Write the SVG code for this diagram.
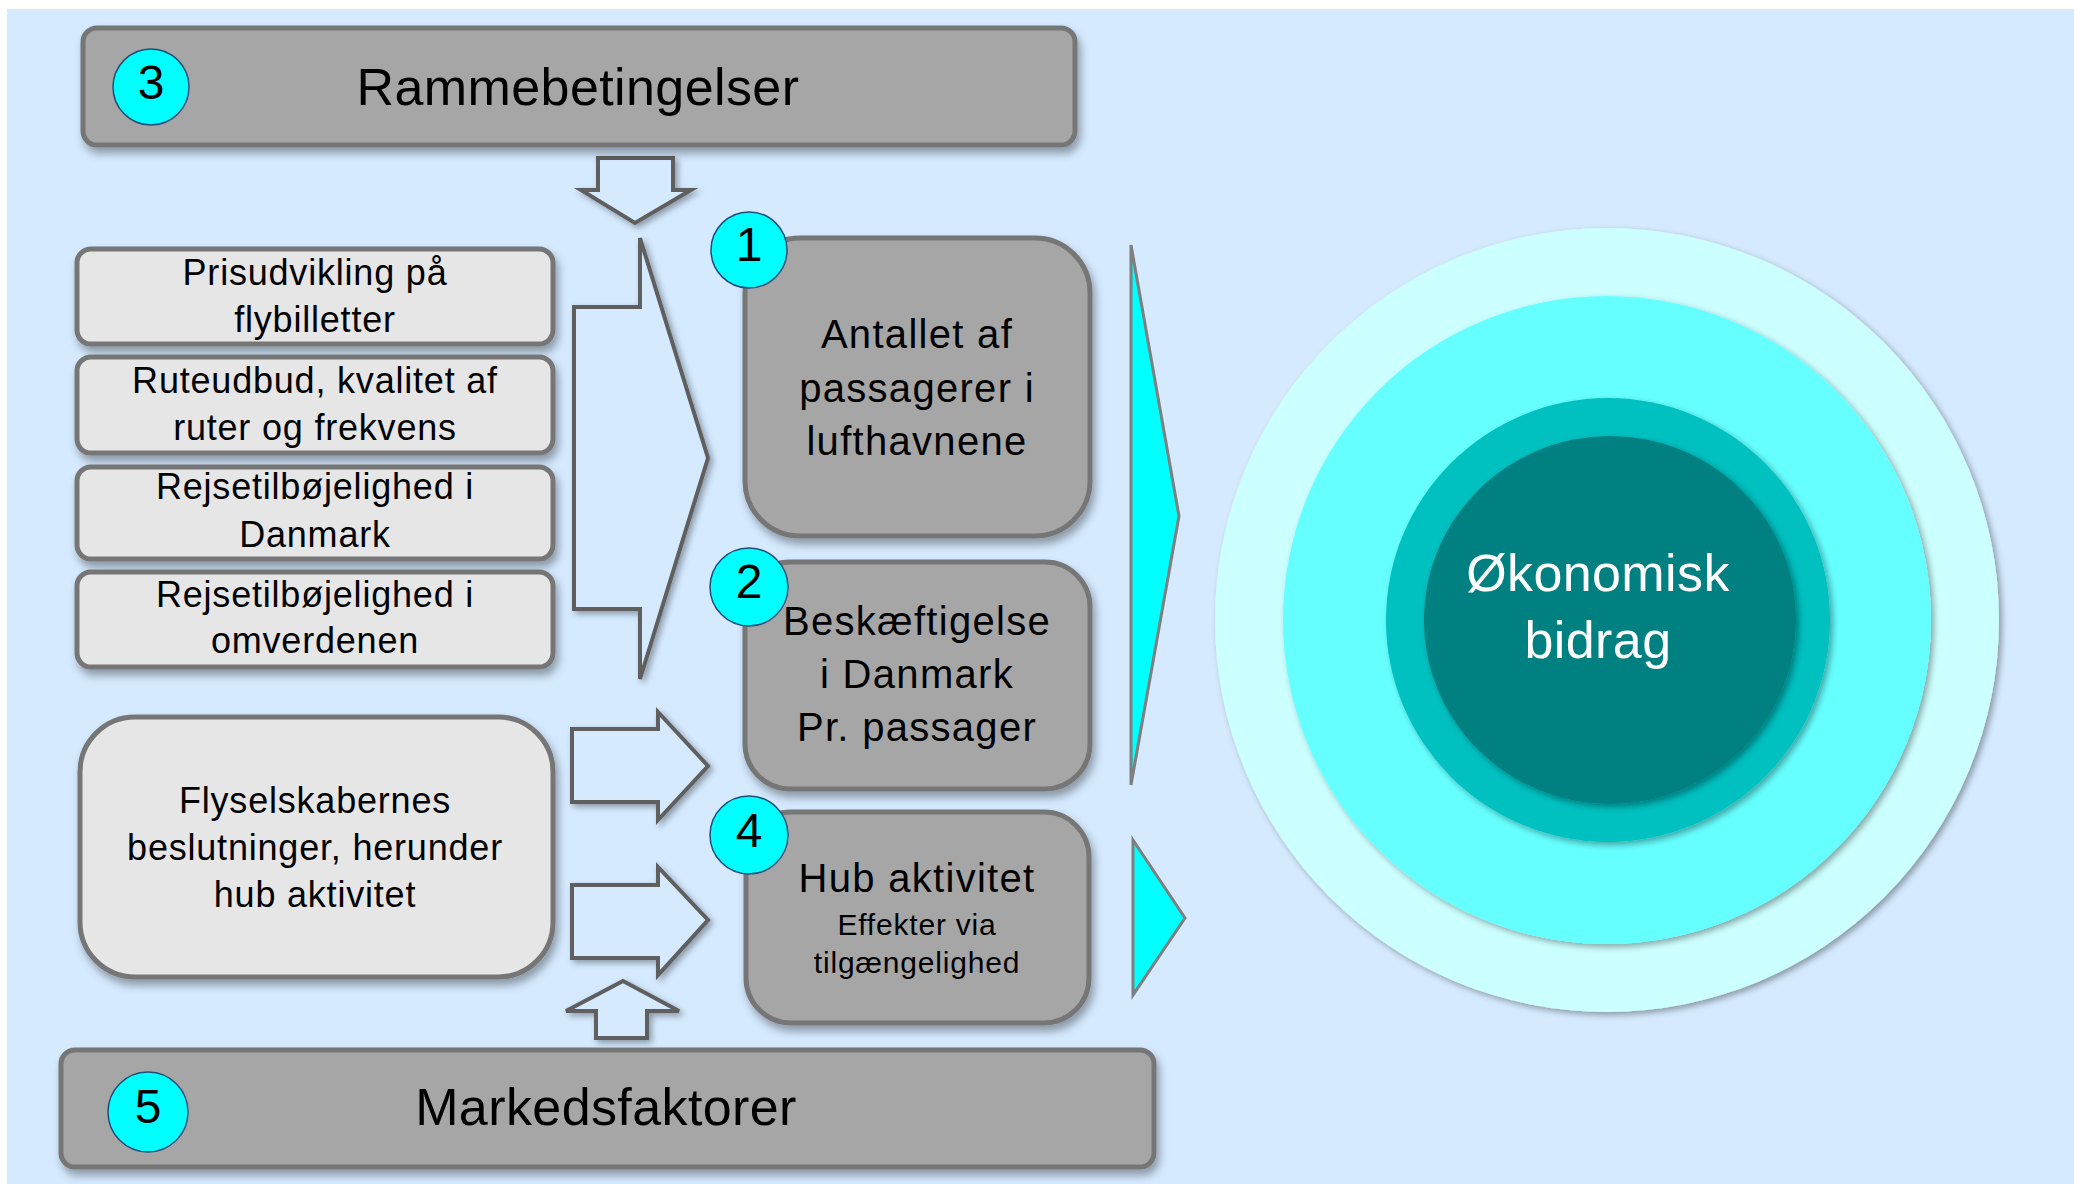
<svg xmlns="http://www.w3.org/2000/svg" width="2074" height="1184" viewBox="0 0 2074 1184">
<defs>
<filter id="sh" x="-10%" y="-10%" width="125%" height="130%">
<feDropShadow dx="3" dy="6" stdDeviation="4" flood-color="#000" flood-opacity="0.35"/>
</filter>
<filter id="shc" x="-10%" y="-10%" width="125%" height="125%">
<feDropShadow dx="3" dy="3" stdDeviation="3" flood-color="#000" flood-opacity="0.35"/>
</filter>
<style>
.bar{fill:#A6A6A6;stroke:#767676;stroke-width:5}
.lt{fill:#E6E6E6;stroke:#767676;stroke-width:5}
.arr{fill:#D5EAFF;stroke:#5F5F5F;stroke-width:4;stroke-linejoin:miter}
.num{fill:#00FFFF;stroke:#1F4E79;stroke-width:1.5}
.tri{fill:#00FFFF;stroke:#7F7F7F;stroke-width:3}
text{font-family:"Liberation Sans",Arial,sans-serif;fill:#000;text-anchor:middle}
.big{font-size:52px;letter-spacing:0.4px}
.mid{font-size:40px;letter-spacing:1.3px}
.sm{font-size:36px;letter-spacing:0.8px}
.xs{font-size:30px;letter-spacing:0.8px}
.n{font-size:48px}
.w{fill:#FFFFFF}
</style>
</defs>
<rect x="0" y="0" width="2074" height="1184" fill="#FFFFFF"/>
<rect x="7" y="9" width="2067" height="1175" fill="#D5EAFF"/>

<g id="connectors">
<path class="arr" filter="url(#shc)" d="M598,158 L673,158 L673,190 L691,190 L635,223 L581,190 L598,190 Z"/>
<path class="arr" filter="url(#shc)" d="M574,307 L640,307 L640,238 L708,458 L640,679 L640,609 L574,609 Z"/>
<path class="arr" filter="url(#shc)" d="M572,729 L658,729 L658,712 L708,766 L658,820 L658,802 L572,802 Z"/>
<path class="arr" filter="url(#shc)" d="M572,885 L658,885 L658,867 L708,920 L658,975 L658,958 L572,958 Z"/>
<path class="arr" filter="url(#shc)" d="M596,1038 L596,1011 L566,1011 L623,981 L679,1011 L647,1011 L647,1038 Z"/>
<polygon class="tri" points="1131,245 1179,516 1131,785"/>
<polygon class="tri" points="1133,840 1185,918 1133,995"/>
</g>

<g id="rammebetingelser">
<rect class="bar" filter="url(#sh)" x="83" y="28" width="992" height="117" rx="14"/>
<circle class="num" cx="151" cy="87" r="38"/>
<text class="n" x="151" y="99">3</text>
<text class="big" x="578" y="105">Rammebetingelser</text>
</g>

<g id="prisudvikling">
<rect class="lt" filter="url(#sh)" x="77" y="249" width="476" height="95" rx="14"/>
<text class="sm" x="315" y="285">Prisudvikling på</text>
<text class="sm" x="315" y="332">flybilletter</text>
</g>

<g id="ruteudbud">
<rect class="lt" filter="url(#sh)" x="77" y="357" width="476" height="96" rx="14"/>
<text class="sm" x="315" y="393">Ruteudbud, kvalitet af</text>
<text class="sm" x="315" y="440">ruter og frekvens</text>
</g>

<g id="rejse-dk">
<rect class="lt" filter="url(#sh)" x="77" y="467" width="476" height="92" rx="14"/>
<text class="sm" x="315" y="499">Rejsetilbøjelighed i</text>
<text class="sm" x="315" y="547">Danmark</text>
</g>

<g id="rejse-omverden">
<rect class="lt" filter="url(#sh)" x="77" y="572" width="476" height="95" rx="14"/>
<text class="sm" x="315" y="607">Rejsetilbøjelighed i</text>
<text class="sm" x="315" y="653">omverdenen</text>
</g>

<g id="flyselskaber">
<rect class="lt" filter="url(#sh)" x="80" y="717" width="473" height="260" rx="55"/>
<text class="sm" x="315" y="813">Flyselskabernes</text>
<text class="sm" x="315" y="860">beslutninger, herunder</text>
<text class="sm" x="315" y="907">hub aktivitet</text>
</g>

<g id="antallet">
<rect class="bar" filter="url(#sh)" x="745" y="238" width="345" height="298" rx="55"/>
<circle class="num" cx="749" cy="250" r="38"/>
<text class="n" x="749" y="261">1</text>
<text class="mid" x="917" y="348">Antallet af</text>
<text class="mid" x="917" y="402">passagerer i</text>
<text class="mid" x="917" y="455">lufthavnene</text>
</g>

<g id="beskaeftigelse">
<rect class="bar" filter="url(#sh)" x="745" y="562" width="345" height="227" rx="45"/>
<circle class="num" cx="749" cy="587" r="39"/>
<text class="n" x="749" y="598">2</text>
<text class="mid" x="917" y="635">Beskæftigelse</text>
<text class="mid" x="917" y="688">i Danmark</text>
<text class="mid" x="917" y="741">Pr. passager</text>
</g>

<g id="hub">
<rect class="bar" filter="url(#sh)" x="746" y="812" width="343" height="211" rx="45"/>
<circle class="num" cx="749" cy="835" r="39"/>
<text class="n" x="749" y="847">4</text>
<text class="mid" x="917" y="892">Hub aktivitet</text>
<text class="xs" x="917" y="935">Effekter via</text>
<text class="xs" x="917" y="973">tilgængelighed</text>
</g>

<g id="markedsfaktorer">
<rect class="bar" filter="url(#sh)" x="61" y="1050" width="1093" height="117" rx="14"/>
<circle class="num" cx="148" cy="1112" r="40"/>
<text class="n" x="148" y="1123">5</text>
<text class="big" x="606" y="1125">Markedsfaktorer</text>
</g>

<g id="okonomisk">
<circle filter="url(#shc)" cx="1607" cy="620" r="392" fill="#CCFFFF"/>
<circle filter="url(#shc)" cx="1607" cy="620" r="324" fill="#66FFFF"/>
<circle filter="url(#shc)" cx="1608" cy="620" r="222" fill="#00C0C0"/>
<ellipse filter="url(#shc)" cx="1610" cy="620" rx="186" ry="184" fill="#008080"/>
<text class="big w" x="1598" y="591">Økonomisk</text>
<text class="big w" x="1598" y="658">bidrag</text>
</g>
</svg>
